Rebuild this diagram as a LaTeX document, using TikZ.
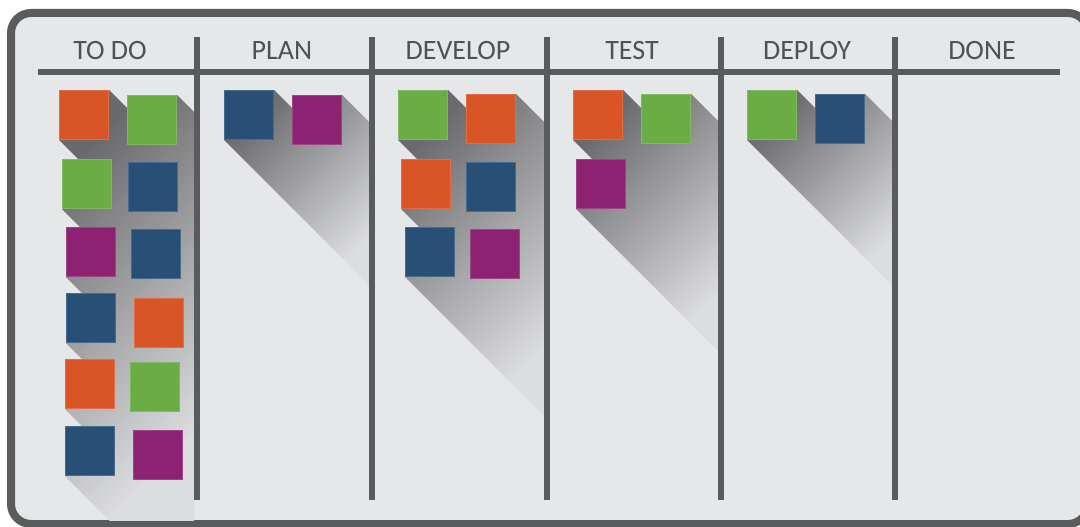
\documentclass[tikz,border=0pt]{standalone}
\usepackage{fontspec}
\newfontfamily\headfont{Carlito}
\usetikzlibrary{calc}
\pgfdeclarelayer{board}
\pgfdeclarelayer{shadow}
\pgfsetlayers{board,shadow,main}

\definecolor{boardgray}{HTML}{E6E7E9}
\definecolor{framegray}{HTML}{5A5B5D}
\definecolor{headgray}{HTML}{505153}
\definecolor{shadowdark}{HTML}{6A6A6C}
\definecolor{shadowlight}{HTML}{DCDDDF}
\definecolor{korange}{HTML}{D95427}
\definecolor{kgreen}{HTML}{6AAD45}
\definecolor{kblue}{HTML}{285077}
\definecolor{kpurple}{HTML}{8C2271}

\tikzset{
  card/.style={fill=#1, draw=#1!85!white, line width=0.6pt, minimum size=49.4pt,
    inner sep=0pt, anchor=north west},
  head/.style={font=\headfont\fontsize{28}{28}\selectfont, text=headgray, anchor=base},
  divider/.style={framegray, line width=5.5pt},
}

\begin{document}
\begin{tikzpicture}[x=1pt, y=-1pt]
  \useasboundingbox (0,0) rectangle (1080,527);

  \begin{pgfonlayer}{board}
    \draw [framegray, fill=boardgray, line width=8pt, rounded corners=20pt] (11,13) rectangle (1088,524);
  \end{pgfonlayer}

  % header
  \draw [divider] (38,72) -- (1060,72);
  \foreach \x in {197,372,547,721,895}
    \draw [divider] (\x,37) -- (\x,500);
  \node [head] (todo) at (110,60) {TO DO};
  \node [head] (plan) at (282,60) {PLAN};
  \node [head] (develop) at (458,60) {DEVELOP};
  \node [head] (test) at (632,60) {TEST};
  \node [head] (deploy) at (807,60) {DEPLOY};
  \node [head] (done) at (982,60) {DONE};

  % cards
  \foreach \n/\x/\y/\c in {
      todoA/59/90/korange, todoB/127/95/kgreen, todoC/62/159/kgreen, todoD/128/162/kblue,
      todoE/66/227/kpurple, todoF/131/229/kblue, todoG/66/293/kblue, todoH/134/298/korange,
      todoI/65/359/korange, todoJ/130/362/kgreen, todoK/65/426/kblue, todoL/133/430/kpurple,
      planA/224/90/kblue, planB/292/95/kpurple,
      devA/398/90/kgreen, devB/466/94/korange, devC/401/159/korange, devD/466/162/kblue,
      devE/405/227/kblue, devF/470/229/kpurple,
      testA/573/90/korange, testB/641/94/kgreen, testC/576/159/kpurple,
      depA/747/90/kgreen, depB/815/94/kblue}
    \node [card=\c] (\n) at (\x,\y) {};

  % long shadows, one column at a time
  \begin{pgfonlayer}{shadow}
    \foreach \xl/\xs/\xr/\yb/\cards in {
        15/59/194/520/{todoA,todoB,todoC,todoD,todoE,todoF,todoG,todoH,todoI,todoJ,todoK,todoL},
        200/224/369/290/{planA,planB},
        375/398/544/420/{devA,devB,devC,devD,devE,devF},
        550/573/718/356/{testA,testB,testC},
        724/747/892/290/{depA,depB}} {
      \begin{scope}
        \clip (\xl,75) rectangle (\xr,520);
        \clip \foreach \c in \cards {
          (\c.north east) -- ($(\c.north east)+(400,400)$)
          -- ($(\c.south west)+(400,400)$) -- (\c.south west) -- cycle};
        \shade [top color=shadowdark, bottom color=shadowlight, shading angle=45]
          (\xs,90) rectangle (\xr,\yb);
      \end{scope}
    }
  \end{pgfonlayer}
\end{tikzpicture}
\end{document}
